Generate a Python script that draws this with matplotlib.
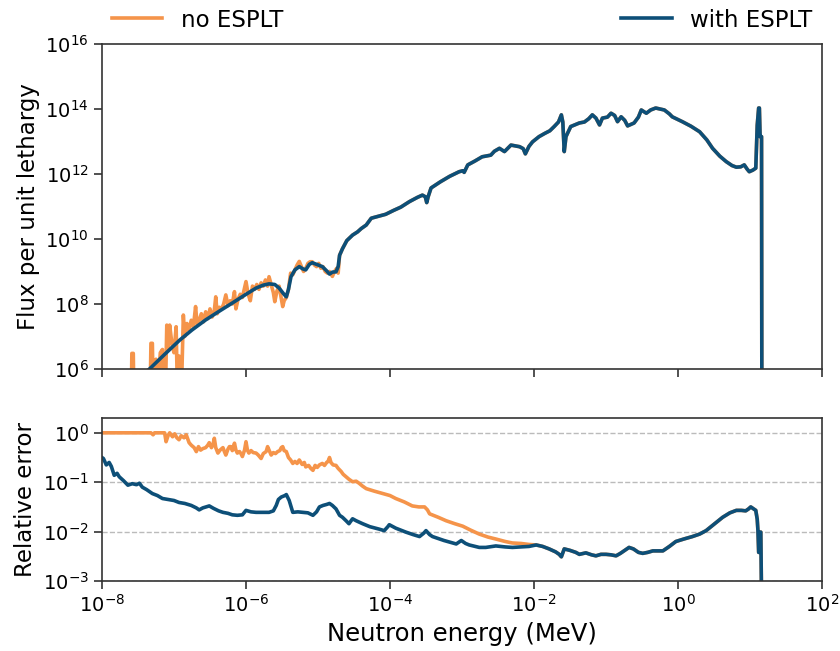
import numpy as np
import matplotlib
matplotlib.use('Agg')
from matplotlib import pyplot as plt
from matplotlib import ticker

# log10(energy / MeV) and log10(flux per unit lethargy)
flux_with_loge = [-7.60, -7.34, -7.13, -6.92, -6.75, -6.56, -6.37, -6.19, -6.02, -5.86,
                  -5.76, -5.68, -5.60, -5.54, -5.48, -5.44, -5.41, -5.375, -5.32, -5.26,
                  -5.21, -5.17, -5.12, -5.08, -5.02, -4.94, -4.88, -4.84, -4.80, -4.75,
                  -4.72, -4.70, -4.66, -4.60, -4.52, -4.45, -4.40, -4.33, -4.26, -4.16,
                  -4.06, -3.95, -3.85, -3.73, -3.62, -3.55, -3.51, -3.49, -3.47, -3.43,
                  -3.30, -3.17, -3.04, -2.99, -2.97, -2.92, -2.82, -2.72, -2.60, -2.55,
                  -2.48, -2.41, -2.32, -2.20, -2.15, -2.12, -2.07, -2.02, -1.93, -1.85,
                  -1.78, -1.72, -1.66, -1.62, -1.60, -1.58, -1.556, -1.49, -1.37, -1.30,
                  -1.24, -1.19, -1.14, -1.09, -1.05, -0.98, -0.93, -0.88, -0.84, -0.79,
                  -0.74, -0.70, -0.61, -0.55, -0.51, -0.44, -0.38, -0.31, -0.25, -0.19,
                  -0.12, -0.08, 0.06, 0.18, 0.30, 0.40, 0.48, 0.58, 0.67, 0.75,
                  0.81, 0.87, 0.92, 0.96, 0.99, 1.04, 1.08, 1.10, 1.12, 1.13,
                  1.14, 1.16, 1.165]
flux_with_logv = [5.5, 6.0, 6.45, 6.89, 7.2, 7.51, 7.78, 8.03, 8.27, 8.49,
                  8.58, 8.62, 8.60, 8.49, 8.32, 8.22, 8.45, 8.84, 9.05, 9.15,
                  9.08, 9.05, 9.22, 9.27, 9.22, 9.15, 9.02, 8.92, 8.98, 8.99,
                  9.15, 9.5, 9.7, 9.95, 10.12, 10.22, 10.32, 10.43, 10.64, 10.70,
                  10.76, 10.88, 10.98, 11.15, 11.28, 11.35, 11.30, 11.12, 11.30, 11.57,
                  11.76, 11.93, 12.07, 12.10, 12.05, 12.28, 12.40, 12.53, 12.58, 12.70,
                  12.79, 12.69, 12.89, 12.84, 12.78, 12.62, 12.85, 12.99, 13.15, 13.25,
                  13.33, 13.46, 13.60, 13.82, 13.60, 12.69, 13.15, 13.46, 13.57, 13.60,
                  13.70, 13.82, 13.72, 13.51, 13.72, 13.75, 13.87, 13.80, 13.61, 13.76,
                  13.65, 13.48, 13.57, 13.75, 13.97, 13.87, 13.97, 14.03, 14.00, 13.97,
                  13.85, 13.76, 13.61, 13.47, 13.30, 13.05, 12.79, 12.55, 12.38, 12.26,
                  12.21, 12.22, 12.28, 12.15, 12.07, 12.12, 12.18, 13.50, 14.03, 14.03,
                  13.15, 13.15, 4.0]

# no ESPLT flux, low energy part (above -4.70 it follows the ESPLT run)
flux_no_loge = [-7.66, -7.60, -7.585, -7.565, -7.55, -7.45, -7.34, -7.32, -7.30, -7.28,
                -7.25, -7.22, -7.19, -7.16, -7.13, -7.10, -7.08, -7.06, -7.03, -7.00,
                -6.97, -6.95, -6.93, -6.90, -6.87, -6.85, -6.82, -6.79, -6.76, -6.73,
                -6.70, -6.68, -6.65, -6.62, -6.59, -6.56, -6.53, -6.50, -6.47, -6.44,
                -6.42, -6.40, -6.37, -6.34, -6.31, -6.28, -6.25, -6.22, -6.19, -6.16,
                -6.14, -6.11, -6.08, -6.05, -6.02, -6.00, -5.97, -5.94, -5.91, -5.88,
                -5.85, -5.82, -5.79, -5.76, -5.73, -5.70, -5.68, -5.65, -5.62, -5.60,
                -5.57, -5.54, -5.52, -5.49, -5.47, -5.44, -5.41, -5.38, -5.35, -5.32,
                -5.29, -5.26, -5.23, -5.20, -5.17, -5.14, -5.11, -5.08, -5.05, -5.02,
                -4.99, -4.96, -4.93, -4.90, -4.87, -4.84, -4.80, -4.77, -4.74, -4.72]
flux_no_logv = [4.0, 4.0, 6.48, 6.48, 4.0, 4.0, 4.0, 6.79, 6.79, 4.0,
                6.3, 5.5, 6.5, 6.6, 4.0, 7.35, 6.6, 7.35, 6.8, 6.5,
                7.30, 5.0, 6.4, 5.0, 7.66, 7.0, 7.4, 7.2, 7.5, 7.3,
                7.92, 7.4, 7.5, 7.7, 7.45, 7.76, 7.55, 7.85, 7.6, 7.8,
                8.22, 7.7, 7.9, 7.85, 8.0, 8.28, 7.95, 8.1, 8.0, 8.38,
                7.85, 8.15, 8.3, 8.2, 8.5, 8.69, 8.3, 8.1, 8.55, 8.45,
                8.6, 8.45, 8.65, 8.55, 8.74, 8.55, 8.84, 8.6, 8.35, 8.07,
                8.4, 8.55, 8.3, 7.92, 8.1, 8.2, 8.45, 8.95, 8.9, 9.05,
                9.2, 9.31, 9.15, 9.0, 9.1, 9.25, 9.3, 9.3, 9.2, 9.15,
                9.25, 9.1, 9.15, 9.0, 8.95, 9.0, 8.85, 9.0, 9.1, 8.95]

# relative error, log10
err_with_loge = [-8.00, -7.98, -7.94, -7.90, -7.87, -7.83, -7.79, -7.76, -7.70, -7.64,
                 -7.58, -7.52, -7.48, -7.44, -7.38, -7.30, -7.23, -7.16, -7.08, -7.00,
                 -6.93, -6.85, -6.76, -6.69, -6.65, -6.60, -6.51, -6.45, -6.38, -6.32,
                 -6.25, -6.19, -6.12, -6.05, -6.00, -5.93, -5.86, -5.78, -5.68, -5.62,
                 -5.58, -5.55, -5.51, -5.46, -5.44, -5.40, -5.35, -5.28, -5.21, -5.14,
                 -5.07, -5.02, -4.98, -4.93, -4.88, -4.84, -4.80, -4.75, -4.70, -4.66,
                 -4.61, -4.57, -4.52, -4.47, -4.38, -4.28, -4.15, -4.08, -4.03, -4.01,
                 -3.92, -3.78, -3.68, -3.59, -3.53, -3.50, -3.45, -3.41, -3.25, -3.08,
                 -3.01, -2.95, -2.90, -2.76, -2.67, -2.53, -2.40, -2.30, -2.18, -2.07,
                 -1.97, -1.88, -1.79, -1.70, -1.65, -1.62, -1.58, -1.50, -1.42, -1.37,
                 -1.28, -1.20, -1.14, -1.07, -1.00, -0.93, -0.86, -0.80, -0.74, -0.68,
                 -0.62, -0.55, -0.49, -0.42, -0.35, -0.21, -0.12, -0.03, 0.08, 0.20,
                 0.30, 0.39, 0.50, 0.62, 0.72, 0.81, 0.88, 0.94, 0.98, 1.01,
                 1.05, 1.08, 1.10, 1.11, 1.12, 1.13, 1.14, 1.15, 1.165]
err_with_logv = [-0.50, -0.52, -0.65, -0.60, -0.68, -0.86, -0.82, -0.89, -0.97, -1.06,
                 -1.03, -1.05, -1.02, -1.10, -1.15, -1.23, -1.27, -1.33, -1.35, -1.37,
                 -1.41, -1.43, -1.47, -1.52, -1.56, -1.52, -1.48, -1.53, -1.58, -1.61,
                 -1.63, -1.66, -1.67, -1.66, -1.57, -1.60, -1.61, -1.61, -1.61, -1.58,
                 -1.47, -1.35, -1.30, -1.27, -1.25, -1.37, -1.61, -1.60, -1.61, -1.62,
                 -1.67, -1.60, -1.50, -1.47, -1.45, -1.43, -1.47, -1.54, -1.67, -1.71,
                 -1.78, -1.84, -1.74, -1.78, -1.84, -1.90, -1.95, -1.98, -1.90, -1.86,
                 -1.93, -2.01, -2.06, -2.10, -2.03, -1.98, -2.06, -2.10, -2.18, -2.25,
                 -2.18, -2.24, -2.27, -2.32, -2.32, -2.29, -2.31, -2.32, -2.31, -2.30,
                 -2.27, -2.30, -2.35, -2.41, -2.46, -2.51, -2.35, -2.38, -2.42, -2.46,
                 -2.43, -2.47, -2.49, -2.46, -2.46, -2.47, -2.49, -2.44, -2.38, -2.32,
                 -2.35, -2.42, -2.44, -2.42, -2.39, -2.39, -2.30, -2.20, -2.15, -2.10,
                 -2.05, -1.98, -1.85, -1.71, -1.62, -1.57, -1.57, -1.58, -1.54, -1.50,
                 -1.54, -1.57, -1.75, -1.98, -2.42, -2.42, -2.01, -2.01, -4.0]

# no ESPLT error up to -2.0, then it follows the ESPLT run
err_no_loge = [-8.00, -7.32, -7.29, -7.27, -7.13, -7.11, -7.08, -7.06, -7.02, -6.99,
               -6.96, -6.93, -6.90, -6.86, -6.83, -6.81, -6.79, -6.76, -6.72, -6.69,
               -6.66, -6.63, -6.60, -6.56, -6.53, -6.51, -6.48, -6.46, -6.44, -6.42,
               -6.39, -6.36, -6.32, -6.30, -6.28, -6.25, -6.23, -6.21, -6.19, -6.16,
               -6.14, -6.12, -6.09, -6.07, -6.05, -6.02, -6.00, -5.98, -5.96, -5.93,
               -5.90, -5.86, -5.83, -5.79, -5.76, -5.72, -5.70, -5.67, -5.65, -5.62,
               -5.59, -5.56, -5.53, -5.51, -5.49, -5.47, -5.44, -5.41, -5.38, -5.35,
               -5.32, -5.29, -5.26, -5.22, -5.19, -5.17, -5.13, -5.10, -5.07, -5.04,
               -5.01, -4.98, -4.94, -4.91, -4.88, -4.86, -4.84, -4.82, -4.79, -4.75,
               -4.72, -4.68, -4.65, -4.61, -4.57, -4.52, -4.47, -4.43, -4.38, -4.33,
               -4.22, -4.10, -4.00, -3.92, -3.80, -3.69, -3.60, -3.52, -3.48, -3.45,
               -3.33, -3.22, -3.10, -2.99, -2.88, -2.76, -2.64, -2.53, -2.40, -2.30,
               -2.18, -2.07]
err_no_logv = [0.0, 0.0, -0.04, 0.0, 0.0, -0.18, -0.05, 0.0, -0.08, -0.02,
               -0.10, -0.14, -0.06, -0.10, -0.04, -0.12, -0.20, -0.25, -0.30, -0.38,
               -0.28, -0.35, -0.32, -0.30, -0.25, -0.20, -0.30, -0.25, -0.11, -0.30,
               -0.41, -0.35, -0.30, -0.38, -0.45, -0.33, -0.28, -0.28, -0.36, -0.21,
               -0.35, -0.41, -0.38, -0.42, -0.48, -0.35, -0.18, -0.35, -0.41, -0.36,
               -0.40, -0.41, -0.45, -0.52, -0.42, -0.38, -0.28, -0.38, -0.45, -0.40,
               -0.42, -0.38, -0.36, -0.30, -0.28, -0.36, -0.38, -0.50, -0.55, -0.62,
               -0.58, -0.62, -0.55, -0.64, -0.60, -0.69, -0.66, -0.72, -0.76, -0.66,
               -0.70, -0.65, -0.62, -0.66, -0.60, -0.58, -0.50, -0.60, -0.65, -0.66,
               -0.72, -0.78, -0.84, -0.89, -0.94, -0.99, -0.98, -1.02, -1.08, -1.13,
               -1.18, -1.23, -1.27, -1.33, -1.40, -1.48, -1.50, -1.50, -1.56, -1.64,
               -1.71, -1.78, -1.84, -1.89, -1.97, -2.05, -2.11, -2.15, -2.20, -2.23,
               -2.24, -2.26]

c_no = '#f5944a'
c_with = '#0d4f78'

fw_e = 10 ** np.array(flux_with_loge)
fw_v = 10 ** np.array(flux_with_logv)
fn_e = np.concatenate([10 ** np.array(flux_no_loge), fw_e[np.array(flux_with_loge) >= -4.70]])
fn_v = np.concatenate([10 ** np.array(flux_no_logv), fw_v[np.array(flux_with_loge) >= -4.70]])

ew_e = 10 ** np.array(err_with_loge)
ew_v = 10 ** np.array(err_with_logv)
en_e = np.concatenate([10 ** np.array(err_no_loge), ew_e[np.array(err_with_loge) >= -1.97]])
en_v = np.concatenate([10 ** np.array(err_no_logv), ew_v[np.array(err_with_loge) >= -1.97]])

plt.rcParams['font.family'] = 'DejaVu Sans'
fig = plt.figure(figsize=(8.4, 6.51), dpi=100)
ax1 = fig.add_axes([0.1214, 0.4332, 0.8572, 0.4992])
ax2 = fig.add_axes([0.1214, 0.1075, 0.8572, 0.2505], sharex=ax1)

ax1.plot(fn_e, fn_v, color=c_no, lw=2.6, label='no ESPLT')
ax1.plot(fw_e, fw_v, color=c_with, lw=2.6, label='with ESPLT')
ax2.plot(en_e, en_v, color=c_no, lw=2.6)
ax2.plot(ew_e, ew_v, color=c_with, lw=2.6)

for ax in (ax1, ax2):
    ax.set_xscale('log')
    ax.set_yscale('log')
    ax.xaxis.set_minor_locator(ticker.NullLocator())
    ax.yaxis.set_minor_locator(ticker.NullLocator())
    ax.tick_params(labelsize=14, length=6, width=1.2, color='#333333')
    for s in ax.spines.values():
        s.set_color('#333333')
        s.set_linewidth(1.2)

ax1.set_xlim(1e-8, 1e2)
ax1.set_ylim(1e6, 1e16)
ax1.yaxis.set_major_locator(ticker.FixedLocator([1e6, 1e8, 1e10, 1e12, 1e14, 1e16]))
ax1.xaxis.set_major_locator(ticker.FixedLocator([1e-8, 1e-6, 1e-4, 1e-2, 1e0, 1e2]))
ax1.tick_params(labelbottom=False)
ax1.set_ylabel('Flux per unit lethargy', fontsize=16.5)

ax2.set_ylim(1e-3, 2)
ax2.yaxis.set_major_locator(ticker.FixedLocator([1e-3, 1e-2, 1e-1, 1e0]))
ax2.grid(axis='y', ls='--', color='#bbbbbb', lw=1)
ax2.set_ylabel('Relative error', fontsize=16.5)
ax2.set_xlabel('Neutron energy (MeV)', fontsize=17.5)

ax1.legend(loc='lower left', bbox_to_anchor=(-0.015, 0.975, 1.03, 0.1), mode='expand', ncol=2,
           frameon=False, fontsize=16.5, handlelength=2.2)
fig.align_ylabels([ax1, ax2])

plt.savefig('out.png', dpi=100)
